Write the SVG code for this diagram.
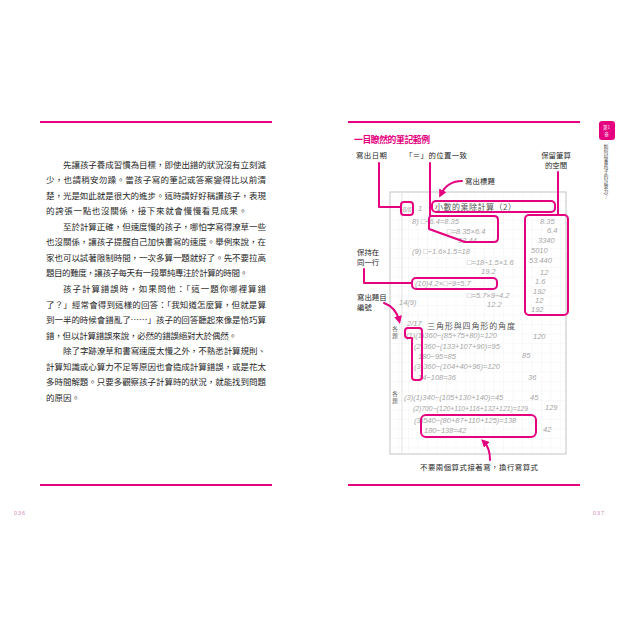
<svg xmlns="http://www.w3.org/2000/svg" width="620" height="620" viewBox="0 0 620 620">
<style>
.body{font-family:"Noto Sans CJK TC","Noto Sans CJK SC",sans-serif;font-size:8.5px;fill:#262626}
.lbl{font-family:"Noto Sans CJK TC","Noto Sans CJK SC",sans-serif;font-size:7.4px;fill:#262626}
.pr{font-family:"Noto Sans CJK TC","Noto Sans CJK SC",sans-serif;font-size:8px;fill:#555}
.hw{font-family:"Liberation Sans",sans-serif;font-size:7.5px;fill:#a6a6a6;font-style:italic}
.pk{fill:none;stroke:#e4007f;stroke-width:2;stroke-linecap:round;stroke-linejoin:round}
.rule{stroke:#e4007f;stroke-width:2}
.pg{font-family:"Liberation Sans",sans-serif;font-size:5.5px;fill:#d48ab4;letter-spacing:1px}
</style>
<defs>
<pattern id="grid" x="390" y="192" width="9.5" height="9.5" patternUnits="userSpaceOnUse">
<path d="M9.5,0V9.5M0,9.5H9.5" fill="none" stroke="#ececec" stroke-width="0.6"/>
</pattern>
<marker id="ah" viewBox="0 0 10 10" refX="5" refY="5" markerWidth="4" markerHeight="4" orient="auto">
<path d="M0,0L10,5L0,10Z" fill="#e4007f"/>
</marker>
</defs>
<rect width="620" height="620" fill="#fff"/>

<g id="left-page">
<line class="rule" x1="40" y1="122" x2="272" y2="122"/>
<line class="rule" x1="40" y1="485" x2="272" y2="485"/>
<text class="body" x="63" y="167.7" textLength="203" lengthAdjust="spacing">先讓孩子養成習慣為目標，即使出錯的狀況沒有立刻減</text>
<text class="body" x="46" y="183.2" textLength="220" lengthAdjust="spacing">少，也請稍安勿躁。當孩子寫的筆記或答案變得比以前清</text>
<text class="body" x="46" y="198.8" textLength="220" lengthAdjust="spacing">楚，光是如此就是很大的進步。這時請好好稱讚孩子，表現</text>
<text class="body" x="46" y="214.3" textLength="201" lengthAdjust="spacing">的誇張一點也沒關係，接下來就會慢慢看見成果。</text>
<text class="body" x="63" y="229.8" textLength="203" lengthAdjust="spacing">至於計算正確，但速度慢的孩子，哪怕字寫得潦草一些</text>
<text class="body" x="46" y="245.4" textLength="220" lengthAdjust="spacing">也沒關係，讓孩子提醒自己加快書寫的速度。舉例來說，在</text>
<text class="body" x="46" y="260.9" textLength="220" lengthAdjust="spacing">家也可以試著限制時間，一次多算一題就好了。先不要拉高</text>
<text class="body" x="46" y="276.4" textLength="202" lengthAdjust="spacing">題目的難度，讓孩子每天有一段單純專注於計算的時間。</text>
<text class="body" x="63" y="292.0" textLength="203" lengthAdjust="spacing">孩子計算錯誤時，如果問他：「這一題你哪裡算錯</text>
<text class="body" x="46" y="307.5" textLength="220" lengthAdjust="spacing">了？」經常會得到這樣的回答：「我知道怎麼算，但就是算</text>
<text class="body" x="46" y="323.0" textLength="220" lengthAdjust="spacing">到一半的時候會錯亂了……」孩子的回答聽起來像是恰巧算</text>
<text class="body" x="46" y="338.5" textLength="191" lengthAdjust="spacing">錯，但以計算錯誤來說，必然的錯誤絕對大於偶然。</text>
<text class="body" x="63" y="354.1" textLength="203" lengthAdjust="spacing">除了字跡潦草和書寫速度太慢之外，不熟悉計算規則、</text>
<text class="body" x="46" y="369.6" textLength="220" lengthAdjust="spacing">計算知識或心算力不足等原因也會造成計算錯誤，或是花太</text>
<text class="body" x="46" y="385.1" textLength="220" lengthAdjust="spacing">多時間解題。只要多觀察孩子計算時的狀況，就能找到問題</text>
<text class="body" x="46" y="400.7">的原因。</text>
<text class="pg" x="14" y="515">036</text>
</g>

<g id="right-page">
<line class="rule" x1="348" y1="122" x2="580" y2="122"/>
<line class="rule" x1="348" y1="485" x2="580" y2="485"/>
<text x="354" y="142.5" textLength="76" lengthAdjust="spacing" style="font-family:'Noto Sans CJK TC',sans-serif;font-size:8.8px;font-weight:bold;fill:#e4007f">一目瞭然的筆記範例</text>
<text class="pg" x="593" y="515">037</text>
</g>

<g id="chapter-tab">
<rect x="599" y="121" width="16" height="19" rx="3" fill="#e4007f"/>
<text x="606.5" y="129" text-anchor="middle" style="font-family:'Noto Sans CJK TC',sans-serif;font-size:4.6px;fill:#fff">第1</text>
<text x="606.5" y="136" text-anchor="middle" style="font-family:'Noto Sans CJK TC',sans-serif;font-size:4.6px;fill:#fff">章</text>
<text x="606 606 606 606 606 606 606 606 606 606 606" y="148 153 158 163 168 173 178 183 188 193 198" text-anchor="middle" style="font-family:'Noto Sans CJK TC',sans-serif;font-size:4.6px;fill:#333">如何培養孩子的計算力？</text>
</g>

<g id="notebook">
<rect x="390" y="192" width="176" height="262" fill="#fff" stroke="#c4c4c4" stroke-width="1"/>
<rect x="391" y="193" width="174" height="260" fill="url(#grid)"/>
<line x1="402" y1="193" x2="402" y2="453" stroke="#d6d6d6" stroke-width="0.7"/>
<text class="pr" x="435" y="210" textLength="81" lengthAdjust="spacing">小數的乘除計算（2）</text>
<text class="pr" x="427" y="328.5" textLength="88" lengthAdjust="spacing">三角形與四角形的角度</text>
<text class="pr" x="395" y="331" text-anchor="middle" style="font-size:5.5px">各</text>
<text class="pr" x="395" y="337.5" text-anchor="middle" style="font-size:5.5px">題</text>
<text class="pr" x="395" y="396" text-anchor="middle" style="font-size:5.5px">各</text>
<text class="pr" x="395" y="402.5" text-anchor="middle" style="font-size:5.5px">題</text>
<text class="hw" x="402.5" y="211.5" style="font-size:6.5px">8/6</text>
<text class="hw" x="418" y="211">1</text>
<text class="hw" x="412" y="224">8) □÷6.4=8.35</text>
<text class="hw" x="447" y="234">□=8.35×6.4</text>
<text class="hw" x="458" y="243">53.44</text>
<text class="hw" x="412" y="254">(9) □÷1.6×1.5=18</text>
<text class="hw" x="467" y="265">□=18÷1.5×1.6</text>
<text class="hw" x="481" y="274">19.2</text>
<text class="hw" x="415" y="286">(10)4.2×□÷9=5.7</text>
<text class="hw" x="467" y="298">□=5.7×9÷4.2</text>
<text class="hw" x="487" y="307">12.2</text>
<text class="hw" x="399" y="305">14(9)</text>
<text class="hw" x="407" y="326">2/17</text>
<text class="hw" x="406" y="338">(1)(1)360−(85+75+80)=120</text>
<text class="hw" x="414" y="349">(2)360−(133+107+90)=95</text>
<text class="hw" x="418" y="359">180−95=85</text>
<text class="hw" x="414" y="369">(3)360−(104+40+96)=120</text>
<text class="hw" x="418" y="380">14−108=36</text>
<text class="hw" x="533" y="339">120</text>
<text class="hw" x="522" y="358">85</text>
<text class="hw" x="528" y="380">36</text>
<text class="hw" x="404" y="400">(3)(1)340−(105+130+140)=45</text>
<text class="hw" x="413" y="411" style="font-size:6.8px">(2)700−(120+110+116+132+121)=129</text>
<text class="hw" x="414" y="423">(3)540−(80+87+110+125)=138</text>
<text class="hw" x="424" y="433">180−138=42</text>
<text class="hw" x="530" y="400">45</text>
<text class="hw" x="545" y="410">129</text>
<text class="hw" x="543" y="432">42</text>
<text class="hw" x="540" y="224">8.35</text>
<text class="hw" x="547" y="233">6.4</text>
<text class="hw" x="538" y="243">3340</text>
<text class="hw" x="531" y="253">5010</text>
<text class="hw" x="529" y="263">53.440</text>
<text class="hw" x="540" y="275">12</text>
<text class="hw" x="535" y="284">1.6</text>
<text class="hw" x="533" y="294">192</text>
<text class="hw" x="535" y="303">12</text>
<text class="hw" x="531" y="312">192</text>
</g>

<g id="labels">
<text class="lbl" x="356" y="158" textLength="31" lengthAdjust="spacing">寫出日期</text>
<text class="lbl" x="405" y="158" textLength="62" lengthAdjust="spacing">「＝」的位置一致</text>
<text class="lbl" x="556" y="158" text-anchor="middle">保留筆算</text>
<text class="lbl" x="556" y="168" text-anchor="middle">的空間</text>
<text class="lbl" x="465" y="184" textLength="30" lengthAdjust="spacing">寫出標題</text>
<text class="lbl" x="357" y="255">保持在</text>
<text class="lbl" x="357" y="265">同一行</text>
<text class="lbl" x="357" y="300">寫出題目</text>
<text class="lbl" x="357" y="310">編號</text>
<text class="lbl" x="420" y="470" textLength="118" lengthAdjust="spacing">不要兩個算式接著寫，換行寫算式</text>
</g>

<g id="highlights">
<rect class="pk" x="401" y="202" width="12" height="13" rx="3"/>
<rect class="pk" x="432" y="201" width="123" height="11" rx="4"/>
<path class="pk" d="M431,216 H494 Q498,216 498,220 V238 Q498,242 494,242 H465 L429,229 V220 Q429,216 431,216 Z"/>
<rect class="pk" x="525" y="215" width="43" height="100" rx="4"/>
<rect class="pk" x="412" y="278" width="85" height="11" rx="4"/>
<path class="pk" d="M408,328 H419 Q422,328 422,331 V377 Q422,380 419,380 H415 Q412,380 412,377 V338 H408 Q405,338 405,335 V331 Q405,328 408,328 Z"/>
<rect class="pk" x="421" y="415" width="115" height="22" rx="5"/>
</g>

<g id="connectors">
<path class="pk" d="M379,163 V207 H401"/>
<path class="pk" d="M430,163 V216"/>
<path class="pk" d="M558,172 V215"/>
<path class="pk" d="M462,181 C452,181 445,186 441,194" marker-end="url(#ah)"/>
<path class="pk" d="M364,269 V283 H412"/>
<path class="pk" d="M384,303 C392,306 397,312 399,320" marker-end="url(#ah)"/>
<path class="pk" d="M490,460 C490,451 488,446 484,442" marker-end="url(#ah)"/>
</g>
</svg>
